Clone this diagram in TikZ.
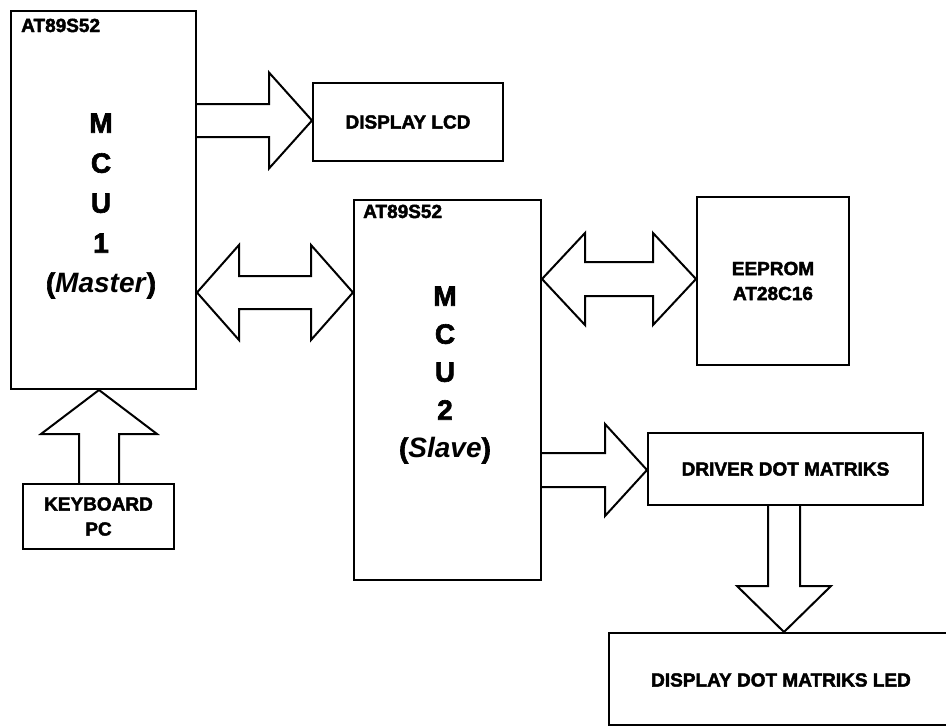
\documentclass[tikz,border=0pt]{standalone}
\usepackage{fontspec}
\setmainfont[BoldFeatures={FakeBold=2.2}]{Liberation Sans}
\usetikzlibrary{calc}
\tikzset{
  box/.style={draw, line width=2pt, inner sep=0pt, anchor=north west},
  bar/.style={draw, line width=2pt, line join=miter},
  lbl/.style={font=\fontsize{19}{25}\selectfont\bfseries, align=center, inner sep=0pt},
  big/.style={font=\fontsize{28}{40}\selectfont\bfseries, align=center, inner sep=0pt},
  bigb/.style={font=\fontsize{28}{38}\selectfont\bfseries, align=center, inner sep=0pt},
  chip/.style={font=\fontsize{19}{22}\selectfont\bfseries, inner sep=0pt, anchor=base west}
}
% right-pointing block arrow: #1 back point (on source), #2 tip (on target), #3 head length, #4 shaft half, #5 head half
\newcommand\rblock[5]{%
  \draw[bar] ($(#1)+(0,-#4)$) -- ($(#2)+(-#3,-#4)$) -- ($(#2)+(-#3,-#5)$) -- (#2)
    -- ($(#2)+(-#3,#5)$) -- ($(#2)+(-#3,#4)$) -- ($(#1)+(0,#4)$);}
% horizontal double block arrow between #1 (left tip) and #2 (right tip)
\newcommand\dblock[5]{%
  \draw[bar] (#1) -- ($(#1)+(#3,-#5)$) -- ($(#1)+(#3,-#4)$) -- ($(#2)+(-#3,-#4)$)
    -- ($(#2)+(-#3,-#5)$) -- (#2) -- ($(#2)+(-#3,#5)$) -- ($(#2)+(-#3,#4)$)
    -- ($(#1)+(#3,#4)$) -- ($(#1)+(#3,#5)$) -- cycle;}
\begin{document}
\begin{tikzpicture}[x=1pt,y=-1pt]
\useasboundingbox (0,0) rectangle (946,726);
\clip (0,0) rectangle (946,726);
% boxes
\node[box, minimum width=185pt, minimum height=378pt] (mcu1) at (10,10) {};
\node[box, minimum width=190pt, minimum height=78pt] (lcd) at (312,82) {};
\node[box, minimum width=187pt, minimum height=380pt] (mcu2) at (353,199) {};
\node[box, minimum width=152pt, minimum height=168pt] (eep) at (696,196) {};
\node[box, minimum width=275pt, minimum height=72pt] (drv) at (647,432) {};
\node[box, minimum width=151pt, minimum height=65pt] (kbd) at (22,483) {};
\node[box, minimum width=344pt, minimum height=92pt] (led) at (608,632) {};
% texts
\node[chip] (t1) at (21,32) {AT89S52};
\node[chip] (t2) at (363,218) {AT89S52};
\node[big] (m1) at (101,206) {M\\C\\U\\1\\(\textit{Master})};
\node[bigb] (m2) at (445,375) {M\\C\\U\\2\\(\textit{Slave})};
\node[lbl] (tl) at (lcd.center) {DISPLAY LCD};
\node[lbl] (te) at (eep.center) {EEPROM\\AT28C16};
\node[lbl] (td) at (drv.center) {DRIVER DOT MATRIKS};
\node[lbl] (tk) at (kbd.center) {KEYBOARD\\PC};
\node[lbl] (tled) at (781,680) {DISPLAY DOT MATRIKS LED};
% arrows
\coordinate (a1b) at (mcu1.east |- 0,120.5);
\coordinate (a1t) at (lcd.west |- 0,120.5);
\rblock{a1b}{a1t}{43}{16.5}{48}
\coordinate (d1l) at (mcu1.east |- 0,292.5);
\coordinate (d1r) at (mcu2.west |- 0,292.5);
\dblock{d1l}{d1r}{42}{16.5}{47.5}
\coordinate (d2l) at (mcu2.east |- 0,279);
\coordinate (d2r) at (eep.west |- 0,279);
\dblock{d2l}{d2r}{43}{17}{46}
\coordinate (a2b) at (mcu2.east |- 0,470);
\coordinate (a2t) at (drv.west |- 0,470);
\rblock{a2b}{a2t}{42}{17}{46}
% down arrow driver -> led
\coordinate (a3b) at (drv.south -| 784,0);
\coordinate (a3t) at (led.north -| 784,0);
\draw[bar] ($(a3b)+(-16,0)$) -- ($(a3t)+(-16,-46)$) -- ($(a3t)+(-47,-46)$) -- (a3t)
  -- ($(a3t)+(47,-46)$) -- ($(a3t)+(16,-46)$) -- ($(a3b)+(16,0)$);
% up arrow keyboard -> mcu1
\coordinate (a4b) at (kbd.north -| 99,0);
\coordinate (a4t) at (mcu1.south -| 99,0);
\draw[bar] ($(a4b)+(-20,0)$) -- ($(a4t)+(-20,44)$) -- ($(a4t)+(-58,44)$) -- (a4t)
  -- ($(a4t)+(58,44)$) -- ($(a4t)+(20,44)$) -- ($(a4b)+(20,0)$);
\end{tikzpicture}
\end{document}
